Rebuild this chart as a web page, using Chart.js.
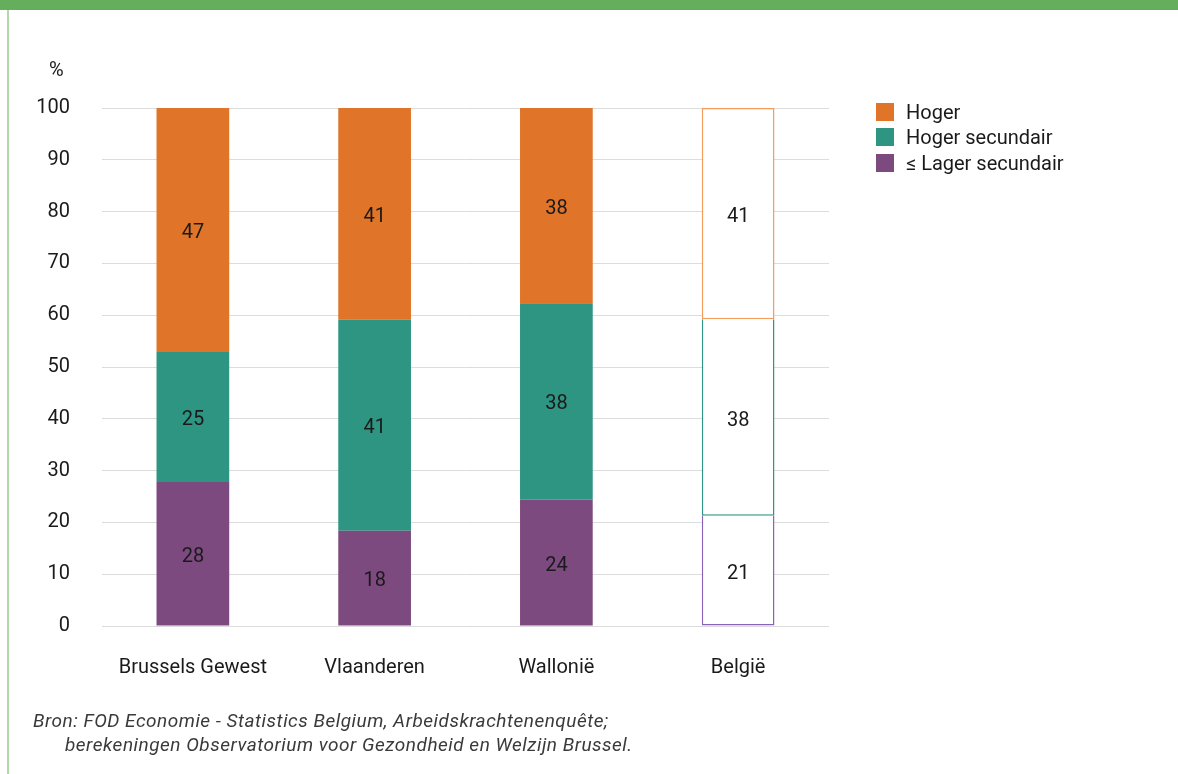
<!DOCTYPE html>
<html lang="nl">
<head>
    <meta charset="UTF-8">
    <title>Opleidingsniveau per gewest</title>
    <script src="https://cdn.jsdelivr.net/npm/chart.js"></script>
    <style>
        body {
            margin: 0;
            background: #fff;
            font-family: 'Roboto', sans-serif;
            color: #1a1a1a;
        }

        .page {
            position: relative;
            width: 1178px;
            height: 774px;
            overflow: hidden;
        }

        .topband {
            position: absolute;
            left: 0;
            top: 0;
            width: 1178px;
            height: 10px;
            background: #64ae5c;
        }

        .leftline {
            position: absolute;
            left: 7px;
            top: 10px;
            width: 2px;
            height: 764px;
            background: #b3daa9;
        }

        .chart-box {
            position: absolute;
            left: 0;
            top: 0;
            width: 1178px;
            height: 774px;
        }

        .unit {
            position: absolute;
            left: 49px;
            top: 57px;
            font-size: 20px;
        }

        .legend {
            position: absolute;
            left: 876px;
            top: 99px;
            font-size: 20px;
        }

        .legend div {
            display: flex;
            align-items: center;
            height: 25.5px;
        }

        .legend span.box {
            width: 18px;
            height: 18px;
            margin-right: 12px;
        }

        .source {
            position: absolute;
            left: 33px;
            top: 709px;
            font-size: 19px;
            letter-spacing: 0.5px;
            font-style: italic;
            color: #3a3a3a;
            line-height: 24px;
        }
    </style>
</head>
<body>
<div class="page">
    <div class="topband"></div>
    <div class="leftline"></div>
    <div class="chart-box"><canvas id="eduChart"></canvas></div>
    <div class="unit">%</div>
    <div class="legend" id="legend"></div>
    <div class="source">
        Bron: FOD Economie - Statistics Belgium, Arbeidskrachtenenquête;<br>
        <span style="padding-left:32px">berekeningen Observatorium voor Gezondheid en Welzijn Brussel.</span>
    </div>
</div>

<script>
    // data
    const regions = ['Brussels Gewest', 'Vlaanderen', 'Wallonië', 'België'];
    const lagerSecundair = [27.8, 18.4, 24.4, 21.3];
    const hogerSecundair = [25.1, 40.7, 37.9, 37.9];
    const hoger = [47.1, 40.9, 37.7, 40.8];
    const yTicks = [0, 10, 20, 30, 40, 50, 60, 70, 80, 90, 100];

    const outlineIndex = 3; // België drawn as outlined bars

    function makeSet(label, data, fill, line, skipTop) {
        return {
            label: label,
            data: data,
            backgroundColor: ctx => ctx.dataIndex === outlineIndex ? '#ffffff' : fill,
            borderColor: line,
            borderSkipped: false,
            borderWidth: ctx => ctx.dataIndex === outlineIndex
                ? {top: skipTop ? 0 : 1.5, left: 1.5, right: 1.5, bottom: 1.5}
                : 0,
            categoryPercentage: 0.8,
            barPercentage: 0.5
        };
    }

    const datasets = [
        makeSet('≤ Lager secundair', lagerSecundair, '#7d4a80', '#8a62b8', true),
        makeSet('Hoger secundair', hogerSecundair, '#2e9583', '#2e9583', true),
        makeSet('Hoger', hoger, '#e07428', '#f39c5e', false)
    ];

    // legend, top item first
    const legendEl = document.getElementById('legend');
    [2, 1, 0].forEach(function (i) {
        const row = document.createElement('div');
        row.innerHTML = '<span class="box" style="background:' +
            ['#7d4a80', '#2e9583', '#e07428'][i] + '"></span>' + datasets[i].label;
        legendEl.appendChild(row);
    });

    const valueLabels = {
        id: 'valueLabels',
        afterDatasetsDraw(chart) {
            const ctx = chart.ctx;
            ctx.save();
            ctx.font = '20px Roboto';
            ctx.fillStyle = '#1a1a1a';
            ctx.textAlign = 'center';
            ctx.textBaseline = 'middle';
            chart.data.datasets.forEach(function (ds, di) {
                chart.getDatasetMeta(di).data.forEach(function (bar, i) {
                    ctx.fillText(Math.round(ds.data[i]), bar.x, (bar.y + bar.base) / 2 + 3);
                });
            });
            ctx.restore();
        }
    };

    new Chart(document.getElementById('eduChart'), {
        type: 'bar',
        data: {labels: regions, datasets: datasets},
        plugins: [valueLabels],
        options: {
            responsive: true,
            maintainAspectRatio: false,
            animation: false,
            layout: {padding: {left: 0, right: 349, top: 108, bottom: 88}},
            plugins: {legend: {display: false}, tooltip: {enabled: false}},
            scales: {
                x: {
                    stacked: true,
                    grid: {display: false},
                    border: {display: false},
                    ticks: {color: '#1a1a1a', font: {family: 'Roboto', size: 20}, padding: 22},
                    afterFit: s => { s.height = 60; }
                },
                y: {
                    stacked: true,
                    min: 0,
                    max: 100,
                    afterBuildTicks: s => { s.ticks = yTicks.map(v => ({value: v})); },
                    grid: {color: '#dcdcdc', lineWidth: 1, drawTicks: false},
                    border: {display: false},
                    ticks: {color: '#1a1a1a', font: {family: 'Roboto', size: 20}, padding: 32},
                    afterFit: s => { s.width = 102; }
                }
            }
        }
    });
</script>
</body>
</html>
